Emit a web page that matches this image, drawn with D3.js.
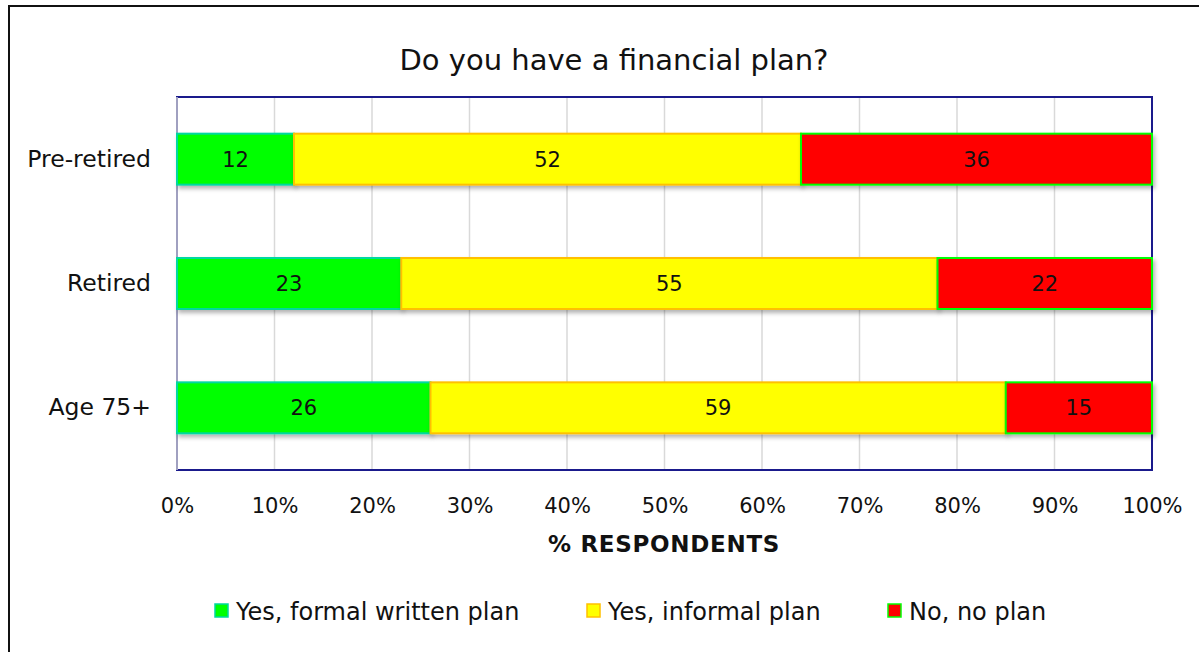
<!DOCTYPE html>
<html><head><meta charset="utf-8">
<script src="https://cdn.jsdelivr.net/npm/d3@7"></script>
<style>body{margin:0;background:#fff;} svg{display:block;font-family:"DejaVu Sans",sans-serif;}</style>
</head><body>
<svg id="c" width="1199" height="652"></svg>
<script>
const categories = ["Pre-retired", "Retired", "Age 75+"];
const seriesNames = ["Yes, formal written plan", "Yes, informal plan", "No, no plan"];
const formalPlan = [12, 23, 26];
const informalPlan = [52, 55, 59];
const noPlan = [36, 22, 15];
const tickValues = [0, 10, 20, 30, 40, 50, 60, 70, 80, 90, 100];
const fills = ["#00FF00", "#FFFF00", "#FF0000"];
const strokes = ["#00D8A0", "#FFC000", "#00FF00"];

const svg = d3.select("#c");
const defs = svg.append("defs");
const f = defs.append("filter").attr("id","sh").attr("x","-5%").attr("y","-20%").attr("width","110%").attr("height","150%");
f.append("feDropShadow").attr("dx",2).attr("dy",3).attr("stdDeviation",2).attr("flood-color","#000").attr("flood-opacity",0.3);

// outer border
svg.append("rect").attr("x",9).attr("y",6).attr("width",1250).attr("height",700)
  .attr("fill","none").attr("stroke","#111").attr("stroke-width",2);

const L = 177, R = 1152, T = 97, B = 470;
const x = d3.scaleLinear().domain([0,100]).range([L,R]);
const y = d3.scaleBand().domain(categories).range([T,B]).paddingInner(0.59).paddingOuter(0.295);

// gridlines
svg.append("g").selectAll("line").data(tickValues.slice(1)).join("line")
  .attr("x1",d=>x(d)).attr("x2",d=>x(d)).attr("y1",T).attr("y2",B)
  .attr("stroke","#D9D9D9").attr("stroke-width",1.5);

// plot border
svg.append("rect").attr("x",L).attr("y",T).attr("width",R-L).attr("height",B-T)
  .attr("fill","none").attr("stroke","#1A1A8C").attr("stroke-width",2);
svg.append("line").attr("x1",L).attr("x2",L).attr("y1",T).attr("y2",B).attr("stroke","#A0A0C0").attr("stroke-width",2);

// stacked data
const series = [formalPlan, informalPlan, noPlan];
const rows = categories.map((c,i)=>{ const o={cat:c}; seriesNames.forEach((s,j)=>o[s]=series[j][i]); return o; });
const stacked = d3.stack().keys(seriesNames)(rows);

const gBars = svg.append("g");
stacked.forEach((layer,j)=>{
  const g = gBars.append("g");
  g.selectAll("rect").data(layer).join("rect")
    .attr("x",d=>x(d[0])).attr("width",d=>x(d[1])-x(d[0]))
    .attr("y",d=>y(d.data.cat)).attr("height",y.bandwidth())
    .attr("fill",fills[j]).attr("stroke",strokes[j]).attr("stroke-width",2)
    .attr("filter","url(#sh)");
});
stacked.forEach((layer,j)=>{
  svg.append("g").selectAll("text").data(layer).join("text")
    .attr("x",d=>(x(d[0])+x(d[1]))/2).attr("y",d=>y(d.data.cat)+y.bandwidth()/2)
    .attr("dy","0.36em").attr("text-anchor","middle").attr("font-size",21).attr("fill","#111")
    .text(d=>d[1]-d[0]);
});

// axes
const xAxis = d3.axisBottom(x).tickValues(tickValues).tickFormat(d=>d+"%").tickSize(0).tickPadding(0);
const gx = svg.append("g").attr("transform",`translate(0,${B})`).call(xAxis);
gx.select(".domain").remove();
gx.selectAll("text").attr("font-size",21).attr("fill","#111").attr("dy",null).attr("y",43).attr("font-family","DejaVu Sans");

const yAxis = d3.axisLeft(y).tickSize(0).tickPadding(0);
const gy = svg.append("g").attr("transform",`translate(${L},0)`).call(yAxis);
gy.select(".domain").remove();
gy.selectAll("text").attr("font-size",23.5).attr("fill","#111").attr("x",-26).attr("font-family","DejaVu Sans");

// title
svg.append("text").attr("x",614).attr("y",70).attr("text-anchor","middle").attr("font-size",29).attr("fill","#111")
  .text("Do you have a financial plan?");
// axis title
svg.append("text").attr("x",664).attr("y",552).attr("text-anchor","middle").attr("font-size",23).attr("font-weight","bold").attr("fill","#111")
  .attr("letter-spacing",0.7).text("% RESPONDENTS");

// legend
const legX = [215, 587, 888];
const leg = svg.append("g");
seriesNames.forEach((s,j)=>{
  leg.append("rect").attr("x",legX[j]).attr("y",604).attr("width",13).attr("height",13)
    .attr("fill",fills[j]).attr("stroke",strokes[j]).attr("stroke-width",1.5);
  leg.append("text").attr("x",legX[j]+21).attr("y",611).attr("dy","0.36em").attr("font-size",24).attr("fill","#111").text(s);
});
</script>
</body></html>
